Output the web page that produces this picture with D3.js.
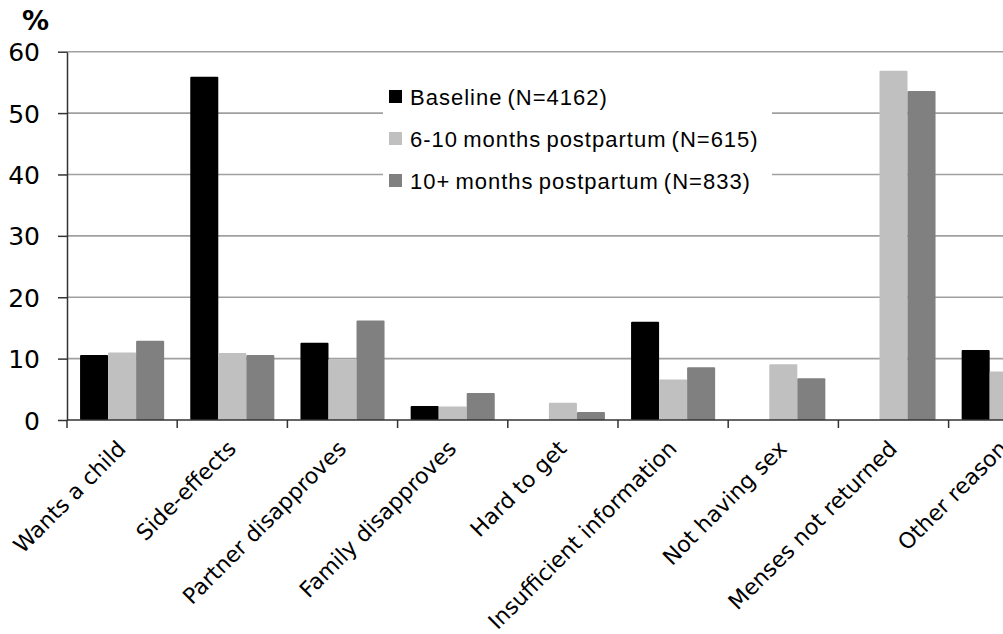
<!DOCTYPE html>
<html>
<head>
<meta charset="utf-8">
<script src="https://cdn.jsdelivr.net/npm/d3@7"></script>
<style>
  html, body { margin: 0; padding: 0; background: #fff; overflow: hidden; }
  svg { display: block; }
</style>
</head>
<body>
<svg id="chart" width="1003" height="634"></svg>
<script>
// Reasons for non-use of contraception, by survey round (%)
const categories = [
  "Wants a child", "Side-effects", "Partner disapproves", "Family disapproves",
  "Hard to get", "Insufficient information", "Not having sex",
  "Menses not returned", "Other reason"
];
const seriesNames = [
  "Baseline (N=4162)",
  "6-10 months postpartum (N=615)",
  "10+ months postpartum (N=833)"
];
const baseline    = [10.6, 55.9, 12.6, 2.3, 0, 16.0, 0, 0, 11.4];
const postpartum6 = [11.0, 10.9, 9.9, 2.2, 2.8, 6.6, 9.1, 56.9, 7.9];
const postpartum10 = [12.9, 10.6, 16.2, 4.4, 1.3, 8.6, 6.8, 53.6, 8.0];
const yTicks = [0, 10, 20, 30, 40, 50, 60];
const colors = ["#000000", "#c0c0c0", "#808080"];

const series = [baseline, postpartum6, postpartum10];

const svg = d3.select("#chart");
const margin = { left: 67, top: 51.7, bottom: 420 };
const bandW = 110.2;
const plotRight = margin.left + bandW * categories.length;

const x = d3.scaleBand()
  .domain(categories)
  .range([margin.left, plotRight])
  .paddingInner(0.237)
  .paddingOuter(0.1185);
const xs = d3.scaleBand()
  .domain(d3.range(series.length))
  .range([0, x.bandwidth()]);
const y = d3.scaleLinear().domain([0, 60]).range([margin.bottom, margin.top]);

// Grid lines
svg.append("g")
  .selectAll("line")
  .data(yTicks.filter(d => d > 0))
  .join("line")
  .attr("x1", margin.left)
  .attr("x2", 1003)
  .attr("y1", d => y(d))
  .attr("y2", d => y(d))
  .attr("stroke", "#a0a0a0")
  .attr("stroke-width", 1.6);

// Bars
const groups = svg.append("g")
  .selectAll("g")
  .data(categories)
  .join("g")
  .attr("transform", d => `translate(${x(d)},0)`);
groups.selectAll("rect")
  .data((d, i) => series.map((s, j) => ({ j, v: s[i] })))
  .join("rect")
  .attr("x", d => xs(d.j))
  .attr("width", xs.bandwidth())
  .attr("y", d => y(d.v))
  .attr("height", d => y(0) - y(d.v))
  .attr("rx", 1)
  .attr("fill", d => colors[d.j]);

// Y axis
const yAxis = d3.axisLeft(y).tickValues(yTicks).tickSize(9).tickSizeOuter(0);
const gy = svg.append("g")
  .attr("transform", `translate(${margin.left},0)`)
  .call(yAxis);
gy.select(".domain").attr("stroke", "#333").attr("stroke-width", 1.5);
gy.selectAll(".tick line").attr("stroke", "#333").attr("stroke-width", 1.5);
gy.selectAll(".tick text")
  .attr("x", -27)
  .attr("dy", "0.36em")
  .attr("font-family", "DejaVu Sans, Verdana, sans-serif")
  .attr("font-size", 25)
  .attr("fill", "#000");

// X axis with ticks at category boundaries
const boundaries = d3.range(categories.length + 1).map(i => margin.left + i * bandW);
const gx = svg.append("g");
gx.append("line")
  .attr("x1", margin.left).attr("x2", 1003)
  .attr("y1", y(0)).attr("y2", y(0))
  .attr("stroke", "#333").attr("stroke-width", 1.5);
gx.selectAll("line.tick")
  .data(boundaries)
  .join("line")
  .attr("class", "tick")
  .attr("x1", d => d).attr("x2", d => d)
  .attr("y1", y(0)).attr("y2", y(0) + 8)
  .attr("stroke", "#333").attr("stroke-width", 1.5);
gx.selectAll("text")
  .data(categories)
  .join("text")
  .attr("transform", d => `translate(${x(d) + x.bandwidth() / 2 + 5},${y(0) + 30}) rotate(-45)`)
  .attr("text-anchor", "end")
  .attr("font-family", "DejaVu Sans, Verdana, sans-serif")
  .attr("font-size", 22)
  .attr("fill", "#000")
  .text(d => d);

// Unit label
svg.append("text")
  .attr("x", 22).attr("y", 30)
  .attr("font-family", "DejaVu Sans, Verdana, sans-serif")
  .attr("font-weight", "bold")
  .attr("font-size", 27)
  .text("%");

// Legend
const legend = svg.append("g").attr("transform", "translate(383,66)");
legend.append("rect")
  .attr("width", 389).attr("height", 134)
  .attr("fill", "#fff");
const items = legend.selectAll("g")
  .data(seriesNames)
  .join("g")
  .attr("transform", (d, i) => `translate(0,${31 + i * 42})`);
items.append("rect")
  .attr("x", 6).attr("y", -7)
  .attr("width", 13).attr("height", 13)
  .attr("fill", (d, i) => colors[i]);
items.append("text")
  .attr("x", 27).attr("y", 8)
  .attr("font-family", "Liberation Sans, Arial, sans-serif")
  .attr("font-size", 22)
  .attr("letter-spacing", 1.0)
  .attr("word-spacing", -2)
  .attr("fill", "#000")
  .text(d => d);
</script>
</body>
</html>
